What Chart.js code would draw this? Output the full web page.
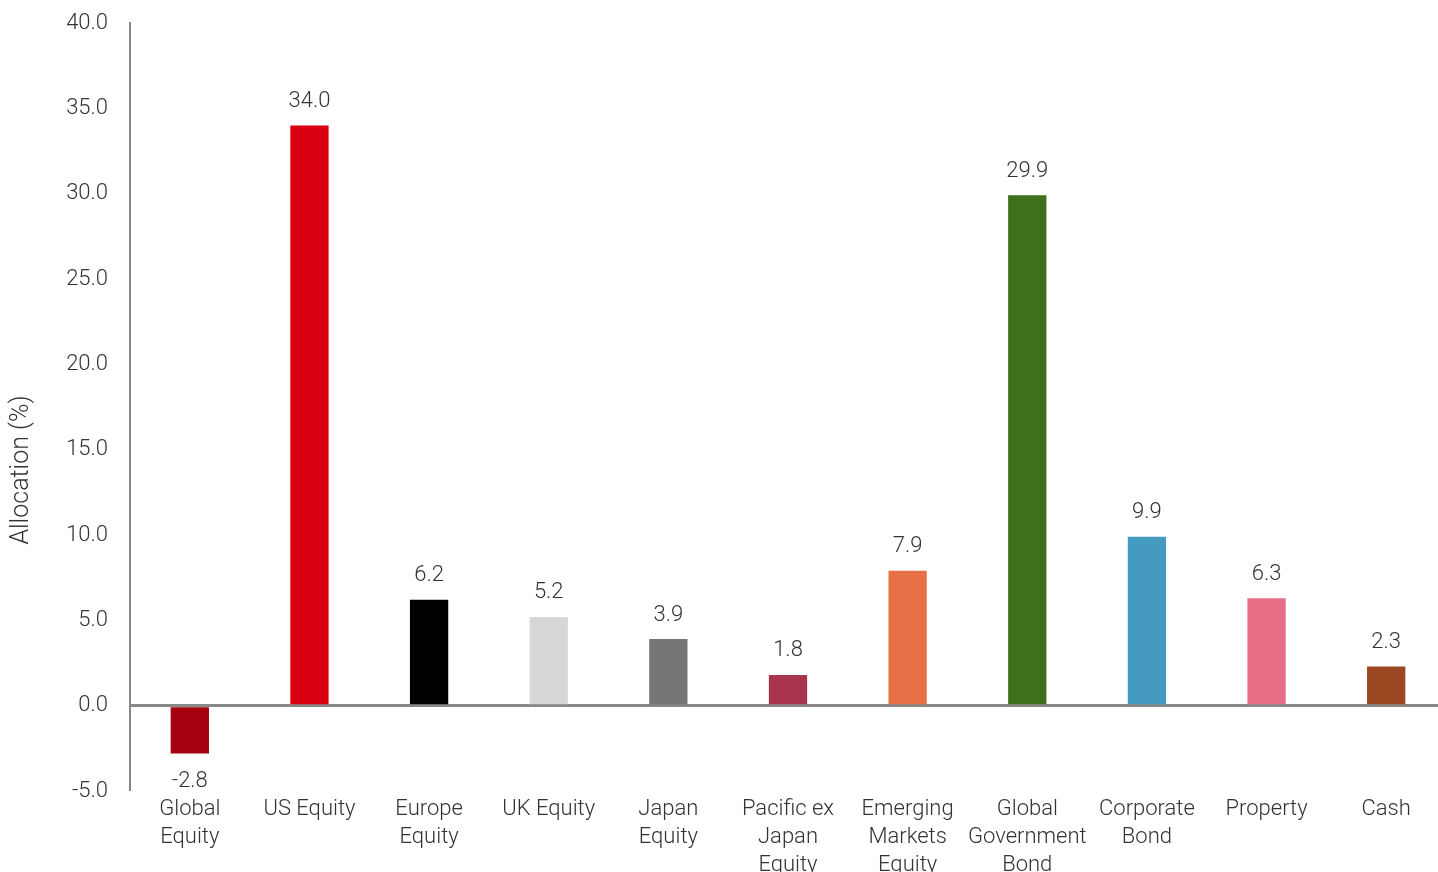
<!DOCTYPE html>
<html>
<head>
<meta charset="utf-8">
<script src="https://cdn.jsdelivr.net/npm/chart.js@4/dist/chart.umd.min.js"></script>
<style>
  html, body { margin: 0; padding: 0; background: #fff; overflow: hidden; }
  /* plot runs a little past the right edge in the reference */
  #wrap { width: 1446px; height: 872px; }
</style>
</head>
<body>
<div id="wrap"><canvas id="allocChart"></canvas></div>
<script>
// Data
const categories = [
    ['Global', 'Equity'], 'US Equity', ['Europe', 'Equity'], 'UK Equity', ['Japan', 'Equity'],
    ['Pacific ex', 'Japan', 'Equity'], ['Emerging', 'Markets', 'Equity'],
    ['Global', 'Government', 'Bond'], ['Corporate', 'Bond'], 'Property', 'Cash'
];
const allocation = [-2.8, 34.0, 6.2, 5.2, 3.9, 1.8, 7.9, 29.9, 9.9, 6.3, 2.3];
const barColours = [
    '#a50010', '#db0011', '#000000', '#d7d8d6', '#767676', '#a8344e',
    '#e87046', '#3d701a', '#459bbf', '#e76e87', '#9a4722'
];
const yMin = -5, yMax = 40, yStep = 5;
const yTitle = 'Allocation (%)';

const textColour = '#333333';
const fontFamily = 'Roboto, "Liberation Sans", sans-serif';

// value above (or below, for negatives) each bar, plus the y-axis title
const valueLabels = {
    id: 'valueLabels',
    afterDatasetsDraw(chart) {
        const ctx = chart.ctx;
        const meta = chart.getDatasetMeta(0);
        ctx.save();
        ctx.font = '300 22px ' + fontFamily;
        ctx.fillStyle = textColour;
        ctx.textAlign = 'center';
        ctx.textBaseline = 'middle';
        meta.data.forEach((bar, i) => {
            const v = allocation[i];
            const y = v >= 0 ? bar.y - 24 : bar.y + 28;
            ctx.fillText(v.toFixed(1), bar.x, y);
        });

        // title sits a bit below the middle of the axis in the original
        const area = chart.chartArea;
        ctx.font = '300 25px ' + fontFamily;
        ctx.translate(22, area.top + (area.bottom - area.top) * 0.582);
        ctx.rotate(-Math.PI / 2);
        ctx.fillText(yTitle, 0, 0);
        ctx.restore();
    }
};

new Chart(document.getElementById('allocChart').getContext('2d'), {
    type: 'bar',
    data: {
        labels: categories,
        datasets: [{
            data: allocation,
            backgroundColor: barColours,
            barPercentage: 0.32,
            categoryPercentage: 1
        }]
    },
    options: {
        responsive: true,
        maintainAspectRatio: false,
        animation: false,
        layout: { padding: { top: 23, right: 0, left: 0, bottom: 0 } },
        plugins: {
            legend: { display: false },
            tooltip: { enabled: false }
        },
        scales: {
            x: {
                grid: { display: false, drawTicks: false },
                border: { display: false },
                ticks: {
                    color: textColour,
                    font: { family: fontFamily, size: 22, weight: 300, lineHeight: 1.27 },
                    padding: 5,
                    maxRotation: 0,
                    autoSkip: false
                },
                afterFit(scale) {
                    scale.height = 81;
                    scale.paddingLeft = 0;
                    scale.paddingRight = 0;
                }
            },
            y: {
                min: yMin,
                max: yMax,
                border: { display: true, color: '#888888', width: 2 },
                grid: {
                    drawTicks: false,
                    lineWidth: ctx => (ctx.tick && ctx.tick.value === 0 ? 3 : 0),
                    color: '#888888'
                },
                ticks: {
                    stepSize: yStep,
                    color: textColour,
                    padding: 22,
                    font: { family: fontFamily, size: 22, weight: 300 },
                    callback: v => Number(v).toFixed(1)
                },
                afterFit(scale) {
                    scale.width = 130;
                    scale.paddingTop = 0;
                    scale.paddingBottom = 0;
                }
            }
        }
    },
    plugins: [valueLabels]
});
</script>
</body>
</html>
